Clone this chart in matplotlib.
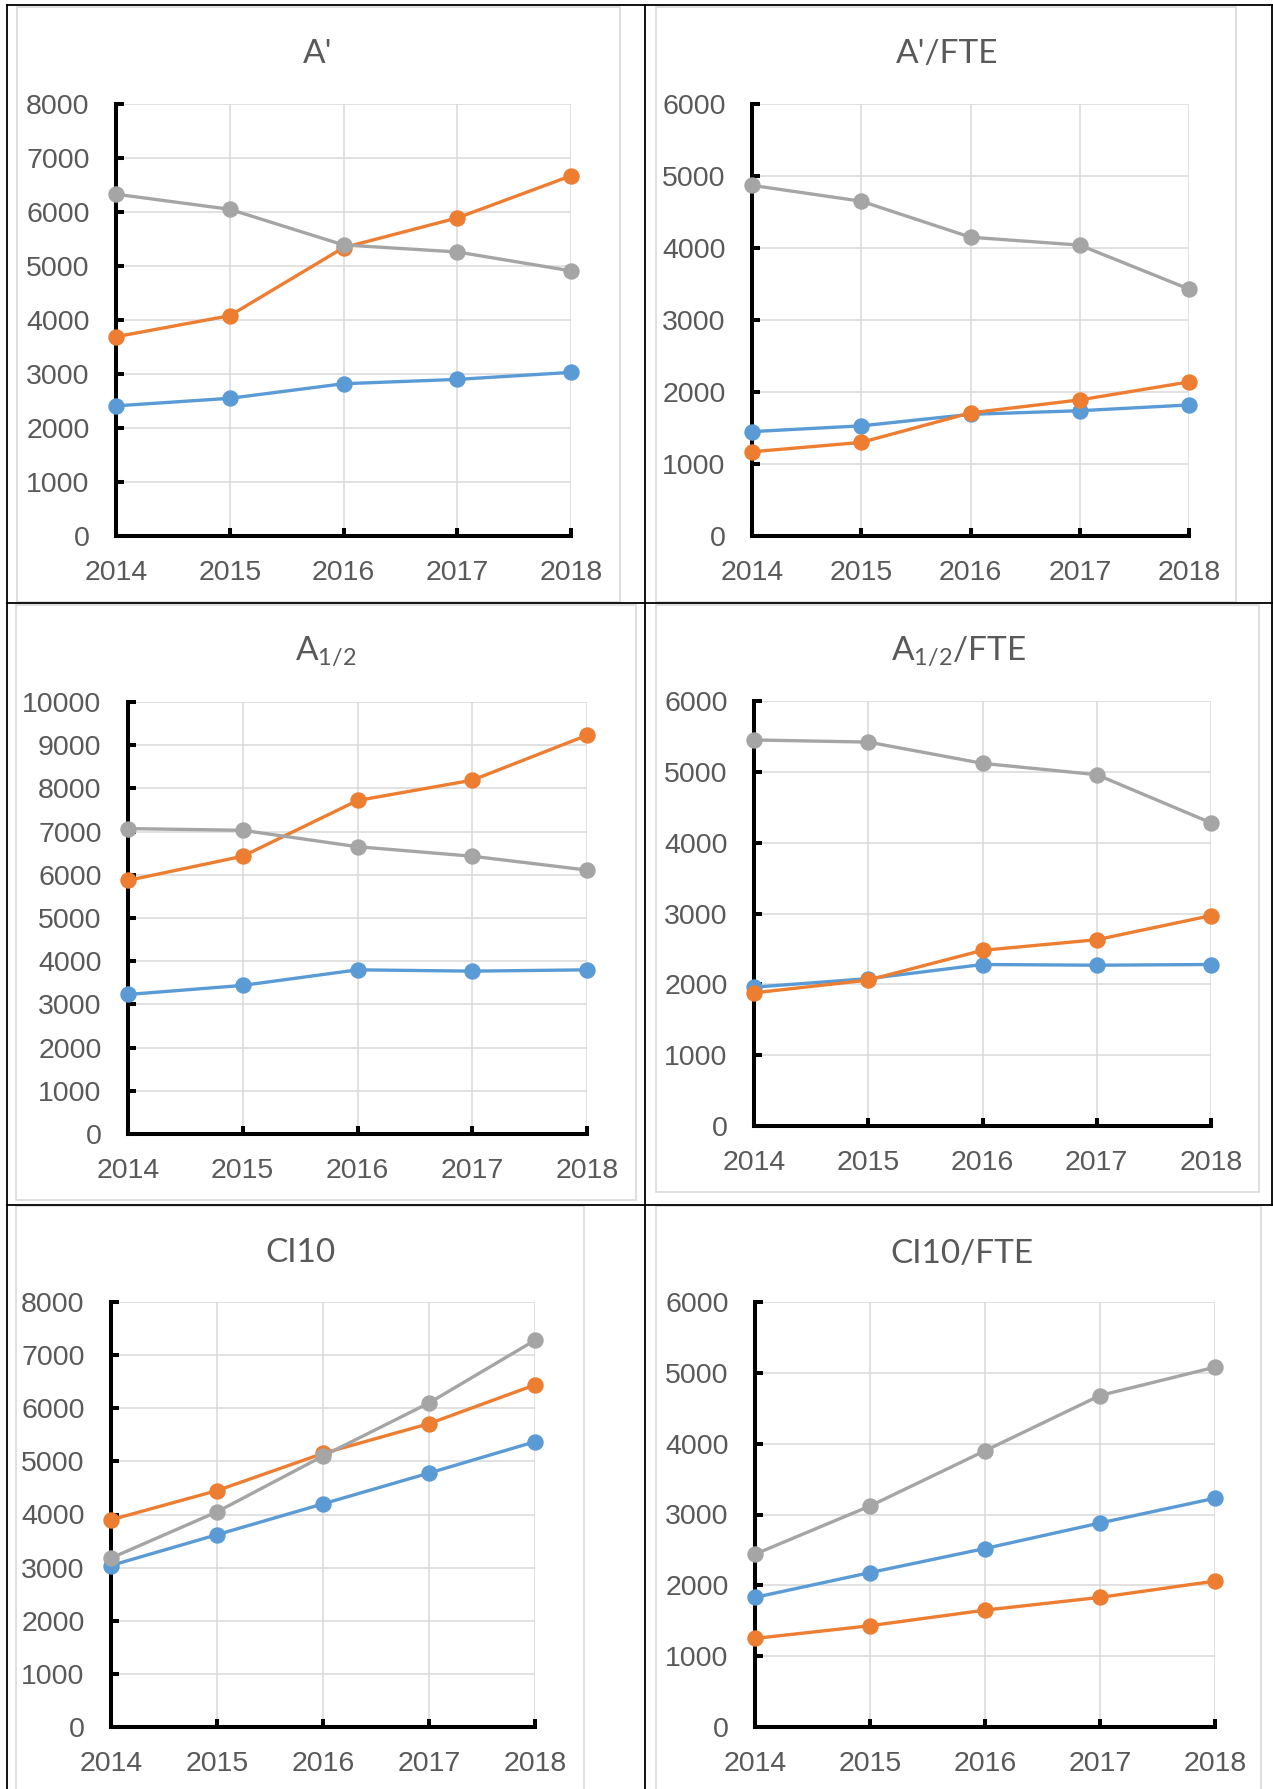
import matplotlib
matplotlib.use("Agg")
import matplotlib.pyplot as plt
from matplotlib.patches import Rectangle

plt.rcParams["mathtext.default"] = "regular"

W, H = 1273, 1789

years = [2014, 2015, 2016, 2017, 2018]

# A'
a_blue = [2410, 2550, 2820, 2900, 3030]
a_orange = [3690, 4080, 5340, 5890, 6670]
a_grey = [6330, 6050, 5390, 5260, 4910]

# A'/FTE
afte_blue = [1450, 1530, 1690, 1740, 1820]
afte_orange = [1170, 1300, 1710, 1890, 2140]
afte_grey = [4870, 4650, 4150, 4040, 3430]

# A1/2
ahalf_blue = [3230, 3440, 3800, 3770, 3800]
ahalf_orange = [5870, 6430, 7720, 8190, 9230]
ahalf_grey = [7070, 7030, 6650, 6430, 6110]

# A1/2/FTE
ahfte_blue = [1960, 2080, 2280, 2270, 2280]
ahfte_orange = [1880, 2060, 2480, 2630, 2970]
ahfte_grey = [5450, 5420, 5120, 4960, 4280]

# CI10
ci_blue = [3040, 3620, 4200, 4780, 5370]
ci_orange = [3900, 4450, 5150, 5710, 6440]
ci_grey = [3180, 4050, 5100, 6100, 7280]

# CI10/FTE
cifte_blue = [1830, 2180, 2520, 2880, 3230]
cifte_orange = [1250, 1430, 1650, 1830, 2060]
cifte_grey = [2440, 3120, 3900, 4680, 5080]

BLUE = "#5B9BD5"
ORANGE = "#ED7D31"
GREY = "#A5A5A5"
TEXT = "#595959"
GRID = "#D9D9D9"

fig = plt.figure(figsize=(W / 100, H / 100), dpi=100)

# background layer in pixel coordinates for the table lines and chart frames
bg = fig.add_axes([0, 0, 1, 1])
bg.set_xlim(0, W)
bg.set_ylim(H, 0)
bg.axis("off")

# chart area frames (left, top, right, bottom)
frames = [
    (17, 7, 620, 602),
    (656, 7, 1236, 602),
    (16, 605, 636, 1200),
    (656, 605, 1259, 1192),
    (16, 1206, 584, 1800),
    (656, 1206, 1261, 1800),
]
for x0, y0, x1, y1 in frames:
    bg.add_patch(Rectangle((x0, y0), x1 - x0, y1 - y0, fill=False,
                           edgecolor=GRID, lw=1.2))

# black table lines
lw_tab = 1.3
bg.plot([7, 1272], [5, 5], color="black", lw=lw_tab)
bg.plot([7, 1272], [603, 603], color="black", lw=lw_tab)
bg.plot([7, 1272], [1205, 1205], color="black", lw=lw_tab)
bg.plot([7, 7], [5, H], color="black", lw=lw_tab)
bg.plot([645, 645], [5, H], color="black", lw=lw_tab)
bg.plot([1272, 1272], [5, 1205], color="black", lw=lw_tab)


def add_chart(box, title, title_pos, blue, orange, grey, ymax):
    x0, y0, x1, y1 = box
    ax = fig.add_axes([x0 / W, 1 - y1 / H, (x1 - x0) / W, (y1 - y0) / H])
    ax.set_facecolor("none")
    for series, color in [(blue, BLUE), (orange, ORANGE), (grey, GREY)]:
        ax.plot(years, series, color=color, lw=2.4, marker="o",
                markersize=10.8, clip_on=False, zorder=3)
    ax.set_xlim(2014, 2018)
    ax.set_ylim(0, ymax)
    ax.set_xticks(years)
    ax.set_yticks(range(0, ymax + 1, 1000))
    ax.grid(True, color=GRID, lw=1.1)
    ax.set_axisbelow(True)
    ax.spines["top"].set_visible(False)
    ax.spines["right"].set_visible(False)
    for s in ["left", "bottom"]:
        ax.spines[s].set_linewidth(2.9)
        ax.spines[s].set_color("black")
    ax.tick_params(direction="in", length=5.8, width=2.9, color="black",
                   labelcolor=TEXT, labelsize=20.5)
    ax.tick_params(axis="y", pad=19)
    ax.tick_params(axis="x", pad=17.5)
    for lab in ax.get_xticklabels() + ax.get_yticklabels():
        lab.set_fontfamily("Liberation Sans")
    bg.text(title_pos[0], title_pos[1], title, ha="center", va="baseline",
            fontsize=24, color=TEXT, family="Lato")
    return ax


add_chart((116, 104, 571, 536), "A'", (318, 63), a_blue, a_orange, a_grey, 8000)
add_chart((752, 104, 1189, 536), "A'/FTE", (947, 63),
          afte_blue, afte_orange, afte_grey, 6000)
add_chart((128, 702, 587, 1134), "A$_{1/2}$", (326, 660),
          ahalf_blue, ahalf_orange, ahalf_grey, 10000)
add_chart((754, 701, 1211, 1126), "A$_{1/2}$/FTE", (958, 660),
          ahfte_blue, ahfte_orange, ahfte_grey, 6000)
add_chart((111, 1302, 535, 1727), "CI10", (300, 1262),
          ci_blue, ci_orange, ci_grey, 8000)
add_chart((755, 1302, 1215, 1727), "CI10/FTE", (962, 1263),
          cifte_blue, cifte_orange, cifte_grey, 6000)

plt.savefig("out.png", dpi=100)
